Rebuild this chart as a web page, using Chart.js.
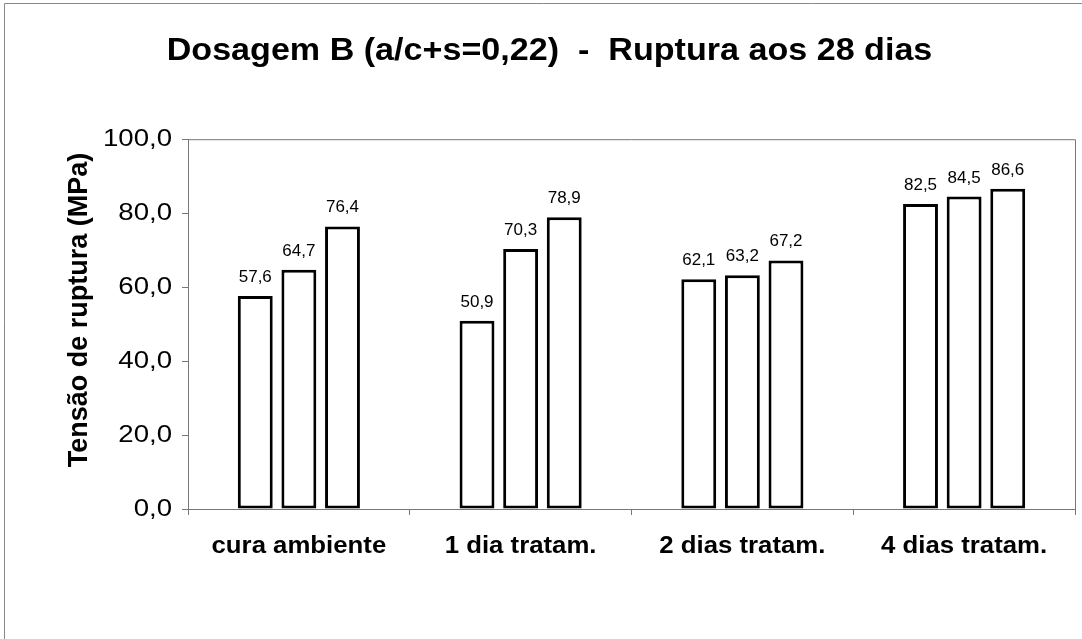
<!DOCTYPE html>
<html>
<head>
<meta charset="utf-8">
<script src="https://cdn.jsdelivr.net/npm/chart.js@4/dist/chart.umd.min.js"></script>
<style>
html,body{margin:0;padding:0;background:#fff;}
#wrap{position:relative;width:1082px;height:639px;}
canvas{display:block;}
</style>
</head>
<body>
<div id="wrap"><canvas id="c" width="1082" height="639"></canvas></div>
<script>
const categories = ["cura ambiente", "1 dia tratam.", "2 dias tratam.", "4 dias tratam."];
const series1 = [57.6, 50.9, 62.1, 82.5];
const series2 = [64.7, 70.3, 63.2, 84.5];
const series3 = [76.4, 78.9, 67.2, 86.6];
const yTicks = [0, 20, 40, 60, 80, 100];
const titleText = "Dosagem B (a/c+s=0,22)  -  Ruptura aos 28 dias";
const yTitle = "Tensão de ruptura (MPa)";

const FONT = '"Liberation Sans", Arial, sans-serif';
const fmt = v => v.toFixed(1).replace('.', ',');

// horizontal stretch of glyphs (the reference text is a little wider than its height suggests)
const stretchBySize = {31: 1.1, 24: 1.15, 23: 1.12};

const canvas = document.getElementById('c');
const ctx2d = canvas.getContext('2d');
const origFill = CanvasRenderingContext2D.prototype.fillText;
ctx2d.fillText = function (text, x, y, maxWidth) {
  const m = /(\d+(?:\.\d+)?)px/.exec(this.font);
  const s = m ? (stretchBySize[parseFloat(m[1])] || 1) : 1;
  if (s === 1) {
    return maxWidth === undefined ? origFill.call(this, text, x, y) : origFill.call(this, text, x, y, maxWidth);
  }
  const cur = this.getTransform();
  const p = cur.transformPoint(new DOMPoint(x, y));
  this.save();
  this.setTransform(new DOMMatrix().translate(p.x, 0).scale(s, 1).translate(-p.x, 0).multiply(cur));
  origFill.call(this, text, x, y);
  this.restore();
};

const frame = {
  id: 'frame',
  beforeDraw(chart) {
    const ctx = chart.ctx;
    ctx.save();
    ctx.fillStyle = '#fff';
    ctx.fillRect(0, 0, chart.width, chart.height);
    ctx.strokeStyle = '#888';
    ctx.lineWidth = 1;
    ctx.beginPath();
    ctx.moveTo(4.5, chart.height);
    ctx.lineTo(4.5, 3.5);
    ctx.lineTo(chart.width, 3.5);
    ctx.stroke();
    ctx.restore();
  },
  afterDatasetsDraw(chart) {
    const ctx = chart.ctx;
    const a = chart.chartArea;
    ctx.save();
    ctx.strokeStyle = '#777';
    ctx.lineWidth = 1;
    ctx.beginPath();
    ctx.moveTo(a.left, a.top + 0.5);
    ctx.lineTo(a.right + 0.5, a.top + 0.5);
    ctx.lineTo(a.right + 0.5, a.bottom);
    ctx.stroke();
    ctx.fillStyle = '#000';
    ctx.font = '17px ' + FONT;
    ctx.textAlign = 'center';
    ctx.textBaseline = 'alphabetic';
    chart.data.datasets.forEach((ds, i) => {
      chart.getDatasetMeta(i).data.forEach((bar, j) => {
        ctx.fillText(fmt(ds.data[j]), bar.x, bar.y - 14);
      });
    });
    // y-axis title
    ctx.save();
    ctx.translate(80, 310);
    ctx.rotate(-Math.PI / 2);
    ctx.font = 'bold 27px ' + FONT;
    ctx.textAlign = 'center';
    ctx.textBaseline = 'middle';
    ctx.fillText(yTitle, 0, 0);
    ctx.restore();
    ctx.restore();
  }
};

const barStyle = {backgroundColor: '#ffffff', borderColor: '#000000', borderWidth: 3, borderSkipped: false,
  categoryPercentage: 0.59, barPercentage: 0.8};

new Chart(canvas, {
  type: 'bar',
  data: {
    labels: categories,
    datasets: [
      Object.assign({label: 'S1', data: series1}, barStyle),
      Object.assign({label: 'S2', data: series2}, barStyle),
      Object.assign({label: 'S3', data: series3}, barStyle)
    ]
  },
  options: {
    responsive: false,
    animation: false,
    events: [],
    layout: {padding: {left: 24, right: 7, top: 0, bottom: 0}},
    plugins: {
      legend: {display: false},
      tooltip: {enabled: false},
      title: {
        display: true,
        text: titleText,
        color: '#000',
        font: {family: FONT, size: 31, weight: 'bold'},
        padding: {top: 33, bottom: 69}
      }
    },
    scales: {
      x: {
        grid: {display: true, drawOnChartArea: false, offset: true, tickLength: 6, color: '#777'},
        border: {color: '#777', width: 1},
        ticks: {color: '#000', padding: 18, font: {family: FONT, size: 23, weight: 'bold'}},
        afterFit(scale) { scale.height = 130; }
      },
      y: {
        min: 0, max: 100,
        afterBuildTicks(scale) { scale.ticks = yTicks.map(v => ({value: v})); },
        grid: {display: true, drawOnChartArea: false, tickLength: 6, color: '#777'},
        border: {color: '#777', width: 1},
        ticks: {color: '#000', padding: 10, callback: v => fmt(v), font: {family: FONT, size: 24}},
        title: {display: false},
        afterFit(scale) { scale.width = 164; }
      }
    }
  },
  plugins: [frame]
});
</script>
</body>
</html>
